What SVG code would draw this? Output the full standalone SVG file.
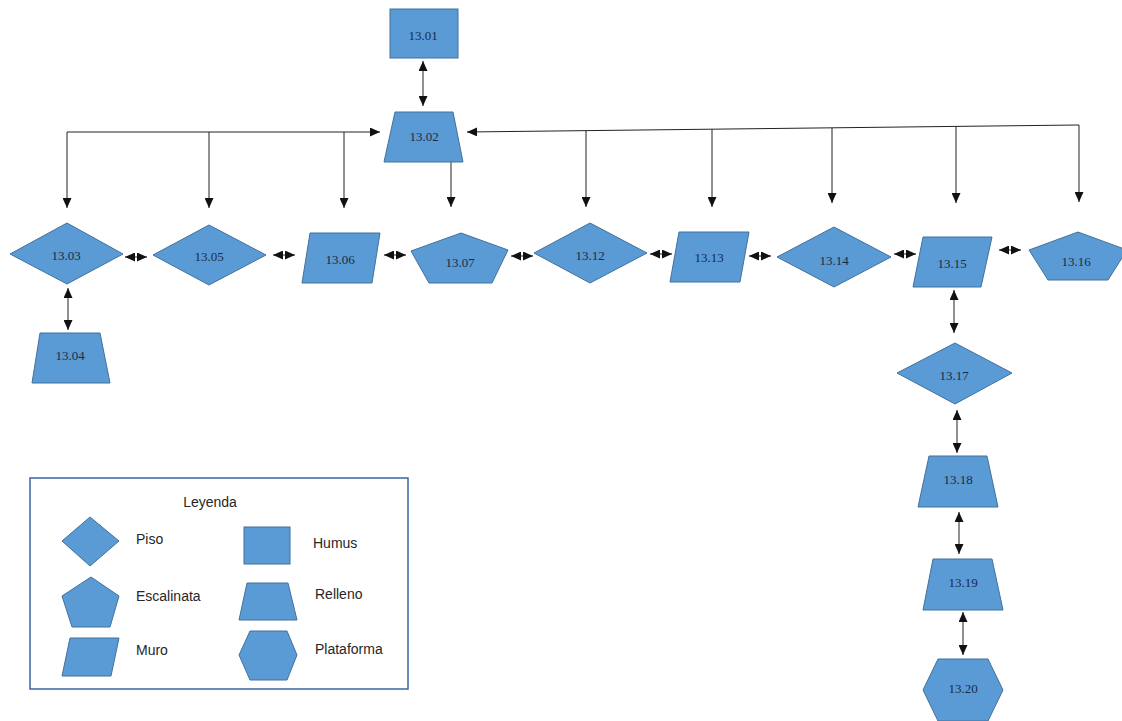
<svg xmlns="http://www.w3.org/2000/svg" width="1122" height="721" viewBox="0 0 1122 721">
<style>
.s{fill:#5B9BD5;stroke:#41719C;stroke-width:1}
.t{font-family:"Liberation Serif","Times New Roman",serif;font-size:13px;fill:#1b2a48;text-anchor:middle;dominant-baseline:central}
.l{font-family:"Liberation Sans",Arial,sans-serif;font-size:14px;fill:#262626}
.c{fill:none;stroke:#222;stroke-width:1}
.a{marker-end:url(#ah)}
.d{marker-start:url(#ah);marker-end:url(#ah)}
</style>
<defs>
<marker id="ah" markerUnits="userSpaceOnUse" markerWidth="10" markerHeight="9" refX="10" refY="4.5" orient="auto-start-reverse" viewBox="0 0 10 9">
<path d="M0,0 L10,4.5 L0,9 z" fill="#111"/>
</marker>
</defs>
<rect width="1122" height="721" fill="#ffffff"/>
<g id="connectors">
<line class="c d" x1="423" y1="61" x2="423" y2="106"/>
<polyline class="c d" points="67,208 67,132 380,132"/>
<line class="c a" x1="209" y1="132" x2="209" y2="208"/>
<line class="c a" x1="344" y1="132" x2="344" y2="208"/>
<line class="c a" x1="451" y1="162" x2="451" y2="207"/>
<polyline class="c d" points="1079,202 1079,125 467,132"/>
<line class="c a" x1="586" y1="130.6" x2="586" y2="207"/>
<line class="c a" x1="712" y1="129.2" x2="712" y2="207"/>
<line class="c a" x1="832" y1="127.8" x2="832" y2="203"/>
<line class="c a" x1="956" y1="126.4" x2="956" y2="203"/>
<line class="c d" x1="125" y1="257" x2="147" y2="257"/>
<line class="c d" x1="273" y1="255" x2="295" y2="255"/>
<line class="c d" x1="384" y1="255" x2="406" y2="255"/>
<line class="c d" x1="511" y1="256" x2="533" y2="256"/>
<line class="c d" x1="650" y1="254" x2="672" y2="254"/>
<line class="c d" x1="749" y1="256" x2="771" y2="256"/>
<line class="c d" x1="894" y1="254" x2="916" y2="254"/>
<line class="c d" x1="999" y1="250" x2="1021" y2="250"/>
<line class="c d" x1="68" y1="288" x2="68" y2="330"/>
<line class="c d" x1="954" y1="290" x2="954" y2="333"/>
<line class="c d" x1="957" y1="410" x2="957" y2="453"/>
<line class="c d" x1="959" y1="512" x2="959" y2="554"/>
<line class="c d" x1="963" y1="612" x2="963" y2="655"/>
</g>
<g id="n1301"><rect class="s" x="390" y="9" width="68" height="49"/><text class="t" x="423" y="35">13.01</text></g>
<g id="n1302"><polygon class="s" points="395,112 453,112 463,162 384,162"/><text class="t" x="424" y="136">13.02</text></g>
<g id="n1303"><polygon class="s" points="10,254 67,223 123,254 67,284"/><text class="t" x="66" y="255">13.03</text></g>
<g id="n1304"><polygon class="s" points="40,333 100,333 110,383 32,383"/><text class="t" x="70" y="355">13.04</text></g>
<g id="n1305"><polygon class="s" points="153,255 209,225 266,255 209,285"/><text class="t" x="209" y="256">13.05</text></g>
<g id="n1306"><polygon class="s" points="310,233 380,233 372,283 302,283"/><text class="t" x="340" y="259">13.06</text></g>
<g id="n1307"><polygon class="s" points="461,233 508,250 492,283 429,283 411,251"/><text class="t" x="460" y="262">13.07</text></g>
<g id="n1312"><polygon class="s" points="534,253 590,223 647,253 590,283"/><text class="t" x="590" y="255">13.12</text></g>
<g id="n1313"><polygon class="s" points="679,232 749,232 740,282 670,282"/><text class="t" x="709" y="257">13.13</text></g>
<g id="n1314"><polygon class="s" points="777,257 834,227 891,257 834,287"/><text class="t" x="834" y="260">13.14</text></g>
<g id="n1315"><polygon class="s" points="923,237 992,237 981,287 913,287"/><text class="t" x="952" y="263">13.15</text></g>
<g id="n1316"><polygon class="s" points="1078,232 1127,250 1108,280 1048,280 1029,250"/><text class="t" x="1076" y="261">13.16</text></g>
<g id="n1317"><polygon class="s" points="897,373 955,343 1012,373 955,404"/><text class="t" x="954" y="375">13.17</text></g>
<g id="n1318"><polygon class="s" points="929,456 987,456 998,507 918,507"/><text class="t" x="958" y="479">13.18</text></g>
<g id="n1319"><polygon class="s" points="933,559 992,559 1003,610 923,610"/><text class="t" x="963" y="582">13.19</text></g>
<g id="n1320"><polygon class="s" points="938,659 988,659 1003,690 988,721 938,721 923,690"/><text class="t" x="963" y="688">13.20</text></g>
<g id="legend">
<rect x="30" y="478" width="378" height="211" fill="#ffffff" stroke="#3a64a0" stroke-width="1.5"/>
<text class="l" x="210" y="507" text-anchor="middle">Leyenda</text>
<polygon class="s" points="62,541 90,517 119,541 90,566"/>
<text class="l" x="136" y="544">Piso</text>
<rect class="s" x="244" y="527" width="46" height="37"/>
<text class="l" x="313" y="548">Humus</text>
<polygon class="s" points="91,577 119,596 110,627 72,627 62,596"/>
<text class="l" x="136" y="601">Escalinata</text>
<polygon class="s" points="247,583 288,583 297,620 239,620"/>
<text class="l" x="315" y="599">Relleno</text>
<polygon class="s" points="70,638 119,638 111,676 62,676"/>
<text class="l" x="136" y="655">Muro</text>
<polygon class="s" points="250,631 287,631 297,655 287,680 250,680 239,655"/>
<text class="l" x="315" y="654">Plataforma</text>
</g>
</svg>
